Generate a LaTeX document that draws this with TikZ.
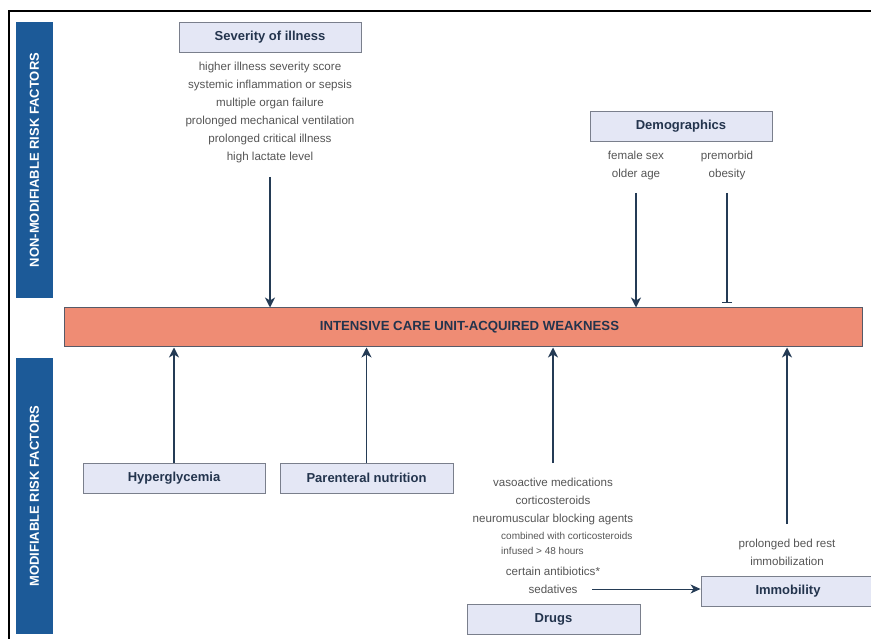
\documentclass[tikz,border=0pt]{standalone}
\usepackage{fontspec}
\setmainfont{Liberation Sans}
\usetikzlibrary{arrows.meta}

\definecolor{boxfill}{HTML}{E4E7F5}
\definecolor{boxline}{HTML}{7A7F8C}
\definecolor{barfill}{HTML}{EF8C74}
\definecolor{barline}{HTML}{565A68}
\definecolor{sidefill}{HTML}{1C5A98}
\definecolor{headtext}{HTML}{23344D}
\definecolor{listtext}{HTML}{555555}
\definecolor{arrowcol}{HTML}{243B55}

\tikzset{
  factorbox/.style={draw=boxline, fill=boxfill, line width=0.9pt,
    minimum height=30pt, inner sep=0pt, text=headtext,
    font=\fontsize{13}{15}\selectfont\bfseries},
  sidebar/.style={fill=sidefill, minimum height=37pt, inner sep=0pt,
    text=white, font=\fontsize{13}{15}\selectfont\bfseries, rotate=90},
  listing/.style={text=listtext, align=center, inner sep=0pt,
    font=\fontsize{11.6}{18}\selectfont},
  smalllisting/.style={text=listtext, inner sep=0pt, anchor=west,
    font=\fontsize{10}{12}\selectfont},
  arr/.style={draw=arrowcol, line width=1.3pt,
    -{Stealth[length=10pt, width=10pt, inset=3pt]}},
  thinarr/.style={draw=arrowcol, line width=1pt,
    -{Stealth[length=10pt, width=9pt, inset=3pt]}},
  inhibit/.style={draw=arrowcol, line width=1.1pt, -{Bar[width=10pt]}},
}

\begin{document}
\begin{tikzpicture}[x=1pt, y=-1pt]
\useasboundingbox (0,0) rectangle (871,639);

% frame
\draw[line width=1.6pt] (9,639) -- (9,11) -- (871,11);

% side labels
\node[sidebar, minimum width=276pt] (nonmod) at (34.5,160) {NON-MODIFIABLE RISK FACTORS};
\node[sidebar, minimum width=276pt] (mod) at (34.5,496) {MODIFIABLE RISK FACTORS};

% central outcome bar and its title
\node[draw=barline, fill=barfill, line width=1pt, minimum width=798pt,
      minimum height=39pt, inner sep=0pt] (icu) at (463,327.5) {};
\node[text=headtext, inner sep=0pt, font=\fontsize{13.2}{15}\selectfont\bfseries]
      (icutitle) at (469.5,327.5) {INTENSIVE CARE UNIT-ACQUIRED WEAKNESS};

% non-modifiable factors
\node[factorbox, minimum width=182pt] (sev) at (270,37) {Severity of illness};
\node[listing] (sevlist) at (270,112.5) {higher illness severity score\\
  systemic inflammation or sepsis\\ multiple organ failure\\
  prolonged mechanical ventilation\\ prolonged critical illness\\
  high lactate level};

\node[factorbox, minimum width=182pt] (demo) at (681,126) {Demographics};
\node[listing] (demoA) at (636,165.5) {female sex\\ older age};
\node[listing] (demoB) at (727,165.5) {premorbid\\ obesity};

% modifiable factors
\node[factorbox, minimum width=182pt] (hyper) at (174,478) {Hyperglycemia};
\node[factorbox, minimum width=173pt] (pn) at (366.5,478) {Parenteral nutrition};
\node[factorbox, minimum width=173pt] (drugs) at (553.5,619) {Drugs};
\node[factorbox, minimum width=174pt] (immob) at (788,591) {Immobility};

\node[listing] (druglist) at (553,501) {vasoactive medications\\
  corticosteroids\\ neuromuscular blocking agents};
\node[smalllisting] (nmbA) at (501,535.5) {combined with corticosteroids};
\node[smalllisting] (nmbB) at (501,551) {infused > 48 hours};
\node[listing] (abx) at (553,571) {certain antibiotics*};
\node[listing] (sed) at (553,589) {sedatives};

\node[listing] (immlist) at (787,552) {prolonged bed rest\\ immobilization};

% connector start points
\coordinate (sevS) at (270,177);
\coordinate (demoAS) at (636,193);
\coordinate (demoBS) at (727,193);
\coordinate (drugS) at (553,463);
\coordinate (immS) at (787,524);
\coordinate (sedS) at (592,589);

% connectors
\draw[arr] (sevS) -- (sevS |- icu.north);
\draw[arr] (demoAS) -- (demoAS |- icu.north);
\draw[inhibit, shorten >=4pt] (demoBS) -- (demoBS |- icu.north);
\draw[arr] (hyper.north) -- (hyper.north |- icu.south);
\draw[arr] (pn.north) -- (pn.north |- icu.south);
\draw[arr] (drugS) -- (drugS |- icu.south);
\draw[arr] (immS) -- (immS |- icu.south);
\draw[thinarr] (sedS) -- (sedS -| immob.west);
\end{tikzpicture}
\end{document}
